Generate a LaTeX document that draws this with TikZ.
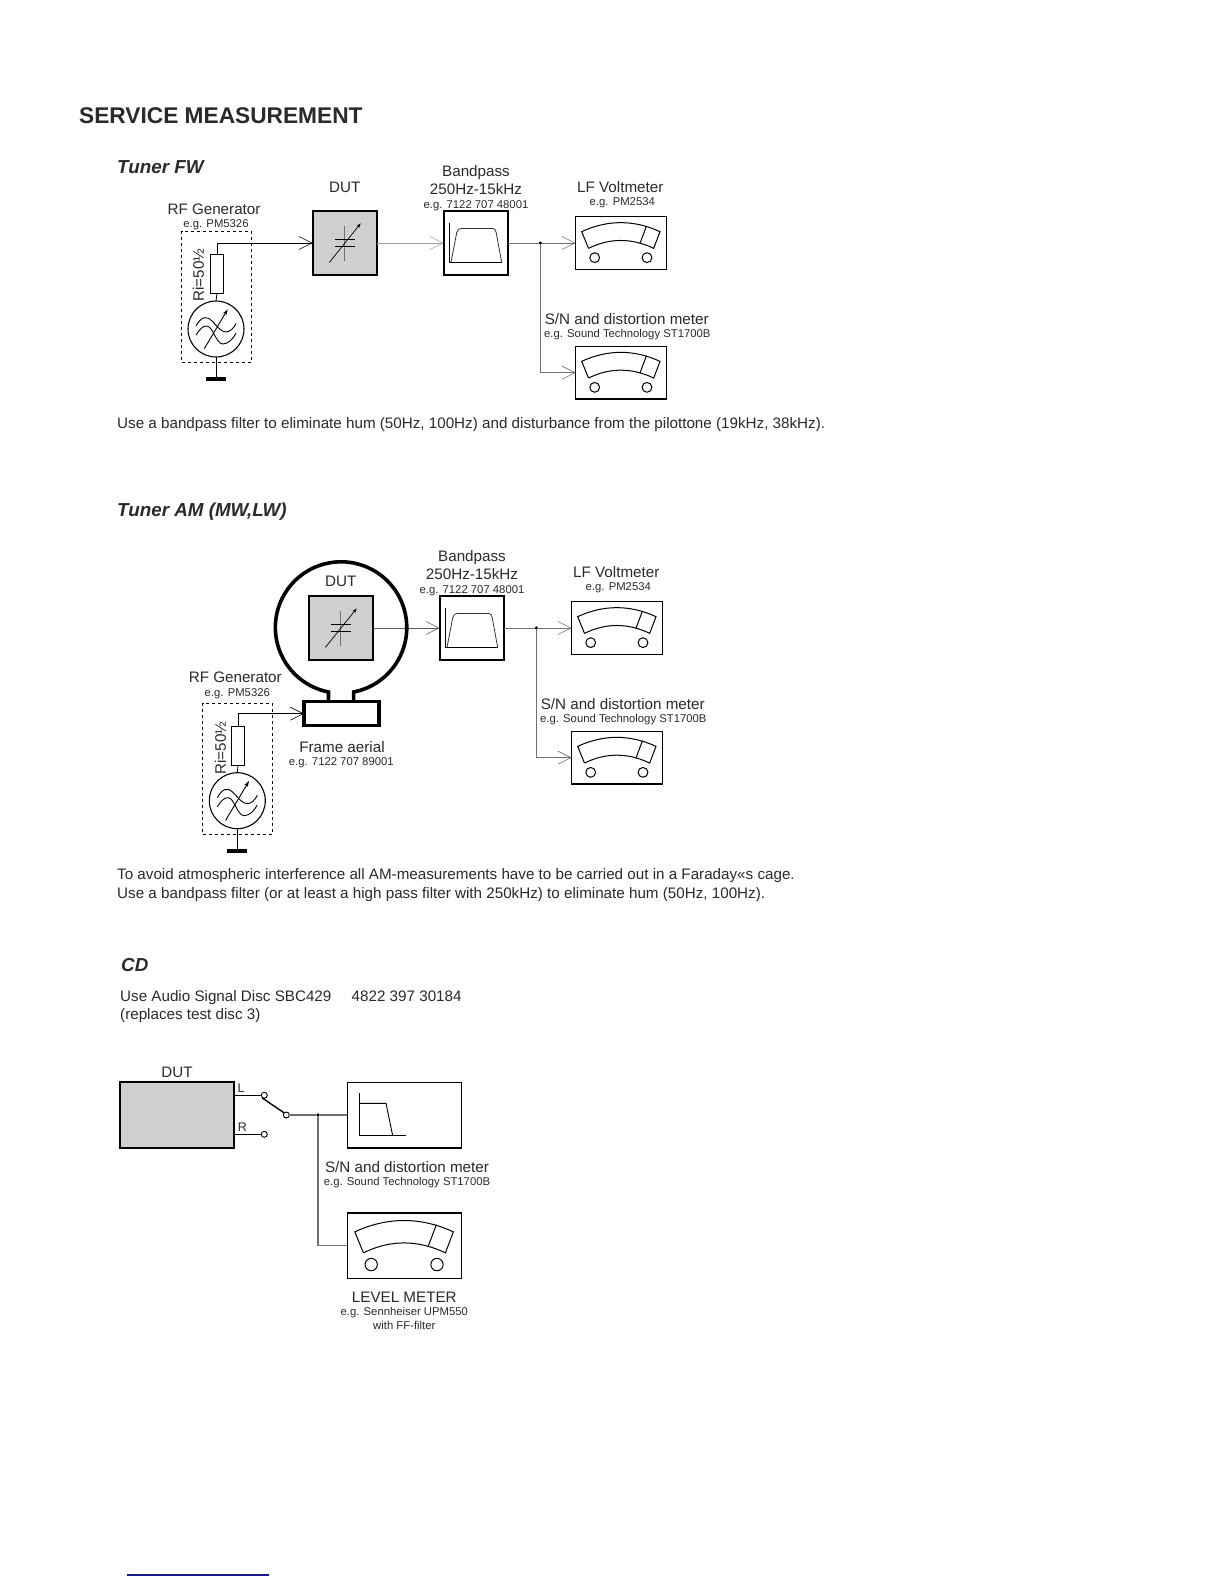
\documentclass[tikz,border=0pt]{standalone}
\usepackage{fontspec}
\setmainfont{Liberation Sans}
\usetikzlibrary{arrows.meta}
\definecolor{dutgrey}{HTML}{CDCFD0}
\definecolor{txt}{HTML}{2A2A2A}
\definecolor{wiregrey}{HTML}{707070}
\definecolor{darkwire}{HTML}{5A5A5A}
\definecolor{paleline}{HTML}{A0A0A0}
\definecolor{bluerule}{HTML}{1A1A8C}
\tikzset{
  x=1pt,y=-1pt,
  >={Straight Barb[length=13pt,width=13pt,line width=0.6pt]},
  box/.style={draw=black,inner sep=0pt,outer sep=0pt,line width=#1},
  box/.default=1.1pt,
  wire/.style={draw=black,line width=0.8pt},
  greywire/.style={draw=wiregrey,line width=0.9pt},
  palewire/.style={draw=paleline,line width=1pt},
  lab/.style={inner sep=0pt,text=txt,yshift=-1.4pt,text height=10.9pt,text depth=3pt,font=\fontsize{15.2}{17}\selectfont},
  sm/.style={inner sep=0pt,text=txt,yshift=-0.8pt,text height=8.1pt,text depth=2.3pt,font=\fontsize{11.3}{13}\selectfont},
  body/.style={inner sep=0pt,anchor=west,text=txt,yshift=-1.6pt,text height=10.9pt,text depth=3pt,font=\fontsize{15.2}{17}\selectfont},
  head/.style={inner sep=0pt,anchor=west,text=txt,yshift=-1.8pt,text height=14pt,text depth=4pt,font=\fontsize{18.8}{22}\bfseries\itshape\selectfont},
  dot/.style={circle,fill=black,inner sep=0pt,outer sep=0pt,minimum size=3.6pt},
  res/.style={box=0.9pt,fill=white,minimum width=13.4pt,minimum height=39pt},
  gen/.style={circle,box=1.1pt,fill=white,minimum size=56pt},
  dashbox/.style={draw=black,dashed,line width=0.8pt,inner sep=0pt,minimum width=69.6pt,minimum height=131pt},
  dutbox/.style={box=1.8pt,fill=dutgrey,minimum width=64.6pt,minimum height=64.6pt},
  bpbox/.style={box=1.8pt,fill=white,minimum width=64.6pt,minimum height=64.6pt},
  meterbox/.style={box=1.3pt,fill=white,minimum width=90.6pt,minimum height=52.7pt},
  term/.style={circle,draw=black,line width=0.9pt,fill=white,inner sep=0pt,outer sep=0pt,minimum size=6pt},
  groundbar/.style={fill=black,inner sep=0pt,minimum width=20pt,minimum height=3.4pt},
  meterglyph/.pic={
    \draw[line width=1pt] (12.8,31.7) -- (6,15) .. controls (32,3) and (58.1,3) .. (84.3,15)
      -- (78,31.7) .. controls (56,21.2) and (34.1,21.2) .. (12.8,31.7);
    \draw[line width=1pt] (70.8,9.3) -- (64.2,26.8);
    \draw[line width=1pt] (19,41) circle[radius=4.9];
    \draw[line width=1pt] (71.3,41) circle[radius=4.9];
  },
  bandglyph/.pic={
    \draw[line width=0.8pt] (6,12) -- (6,51.7) -- (58.3,51.7);
    \draw[line width=0.8pt,draw=black!80] (7.3,51.7) -- (13,22) .. controls (13.8,19) and (15,17.7) .. (18,17.7) -- (49,17.7)
      .. controls (51,17.7) and (52,19) .. (52.5,22) -- (58,51.7);
  },
  capglyph/.pic={
    \draw[draw=wiregrey,line width=0.8pt] (32,15) -- (32,50);
    \draw[line width=0.8pt] (22.3,28.7) -- (42.3,28.7);
    \draw[line width=0.8pt] (22.3,35.7) -- (42.3,35.7);
    \draw[line width=0.7pt,-{Stealth[length=5pt,width=3.5pt]}] (16.7,51.7) -- (48,12.7);
  },
  waveglyph/.pic={
    \draw[line width=0.9pt] (-20,-3) .. controls (-15,-12) and (-10,-14) .. (-4,-8) .. controls (1,-3) and (5,3) .. (10,3) .. controls (14,3) and (18,-1) .. (20,-5.5);
    \draw[line width=0.9pt] (-20,6) .. controls (-16,0) and (-13,-3.3) .. (-9,-3) .. controls (-3,-2.5) and (0,15) .. (7,15) .. controls (12,15) and (17,10) .. (20,4.3);
    \draw[line width=0.9pt,-{Stealth[length=6pt,width=4pt]}] (-11.7,19.7) -- (11.7,-19.7);
  },
}
\begin{document}
\begin{tikzpicture}
\useasboundingbox (0,0) rectangle (1224,1584);
\fill[white] (0,0) rectangle (1224,1584);

\node[inner sep=0pt,anchor=west,text=txt,font=\fontsize{22.7}{24}\bfseries\selectfont] (title) at (79,116) {SERVICE MEASUREMENT};

%% ---------- Tuner FW
\node[head] (hfw) at (117,166.5) {Tuner FW};
\node[dashbox] (rfbox) at (216.5,296.5) {};
\node[lab] (rfl) at (214,209) {RF Generator};
\node[sm] (rfs) at (216,224) {e.g. PM5326};
\node[dutbox] (dut) at (345,243) {};
\pic at (dut.north west) {capglyph};
\node[lab] (dutl) at (344.7,186.7) {DUT};
\node[res] (r) at (217,273.8) {};
\node[gen] (g) at (216,329) {};
\pic at (g.center) {waveglyph};
\node[lab,rotate=90] (ri) at (200,273.6) {Ri=50½};
\node[groundbar] (gnd) at (216,379) {};
\draw[wire] (r.south) -- (g.north);
\draw[wire] (g.south) -- (gnd.north);
\draw[wire,->] (r.north) |- (dut.west);
\node[bpbox] (bp) at (476,243) {};
\pic at (bp.north west) {bandglyph};
\node[lab] (bp1) at (476,171) {Bandpass};
\node[lab] (bp2) at (476,189.3) {250Hz-15kHz};
\node[sm] (bp3) at (476,204.3) {e.g. 7122 707 48001};
\draw[palewire,->] (dut.east) -- (bp.west);
\node[meterbox] (m1) at (621,243) {};
\pic at (m1.north west) {meterglyph};
\node[lab] (m1a) at (620.3,186.7) {LF Voltmeter};
\node[sm] (m1b) at (622.3,202) {e.g. PM2534};
\node[meterbox] (m2) at (621,372.7) {};
\pic at (m2.north west) {meterglyph};
\node[lab] (m2a) at (626.7,319.3) {S/N and distortion meter};
\node[sm] (m2b) at (627.3,334) {e.g. Sound Technology ST1700B};
\node[dot] (j) at (540.3,243) {};
\draw[greywire] (bp.east) -- (j);
\draw[greywire,->] (j) -- (m1.west);
\draw[greywire,->] (j) |- (m2.west);
\node[body] (t1) at (117,422.5) {Use a bandpass filter to eliminate hum (50Hz, 100Hz) and disturbance from the pilottone (19kHz, 38kHz).};

%% ---------- Tuner AM
\node[head] (ham) at (117,510) {Tuner AM (MW,LW)};
\node[dutbox] (adut) at (341,628) {};
\pic at (adut.north west) {capglyph};
\node[lab] (adutl) at (340.7,580.7) {DUT};
\node[bpbox] (abp) at (472,628) {};
\pic at (abp.north west) {bandglyph};
\node[lab] (abp1) at (472,556) {Bandpass};
\node[lab] (abp2) at (472,574.3) {250Hz-15kHz};
\node[sm] (abp3) at (472,589.3) {e.g. 7122 707 48001};
\draw[draw=darkwire,line width=0.9pt,->] (adut.east) -- (abp.west);
\node[box=3.4pt,fill=white,minimum width=75pt,minimum height=24pt] (frame) at (341.5,713.7) {};
\coordinate (neckl) at (328.4,701.7);
\coordinate (neckr) at (353.6,701.7);
\draw[line width=3.6pt] (neckr) -- (353.6,692) arc[start angle=-79,end angle=259,radius=65.7pt] -- (neckl);
\node[meterbox] (am1) at (617,628) {};
\pic at (am1.north west) {meterglyph};
\node[lab] (am1a) at (616.3,571.7) {LF Voltmeter};
\node[sm] (am1b) at (618.3,587) {e.g. PM2534};
\node[meterbox] (am2) at (617,757.7) {};
\pic at (am2.north west) {meterglyph};
\node[lab] (am2a) at (622.7,704.3) {S/N and distortion meter};
\node[sm] (am2b) at (623.3,719) {e.g. Sound Technology ST1700B};
\node[dot] (aj) at (536.3,628) {};
\draw[greywire] (abp.east) -- (aj);
\draw[greywire,->] (aj) -- (am1.west);
\draw[greywire,->] (aj) |- (am2.west);
\node[dashbox] (arfbox) at (237.5,769) {};
\node[lab] (arfl) at (235.3,677.3) {RF Generator};
\node[sm] (arfs) at (237.3,692.7) {e.g. PM5326};
\node[res] (ar) at (238,746) {};
\node[gen] (ag) at (237.3,800.7) {};
\pic at (ag.center) {waveglyph};
\node[lab,rotate=90] (ari) at (222,746.6) {Ri=50½};
\node[groundbar] (agnd) at (237.3,851) {};
\draw[wire] (ar.south) -- (ag.north);
\draw[wire] (ag.south) -- (agnd.north);
\draw[wire,->] (ar.north) |- (frame.west);
\node[lab] (fa) at (342,746.7) {Frame aerial};
\node[sm] (fb) at (341.3,762) {e.g. 7122 707 89001};
\node[body] (t2) at (117,873.6) {To avoid atmospheric interference all AM-measurements have to be carried out in a Faraday«s cage.};
\node[body] (t3) at (117,893) {Use a bandpass filter (or at least a high pass filter with 250kHz) to eliminate hum (50Hz, 100Hz).};

%% ---------- CD
\node[head] (hcd) at (121,964.6) {CD};
\node[body] (t4) at (120,996) {Use Audio Signal Disc SBC429};
\node[body] (t5) at (351.5,996) {4822 397 30184};
\node[body] (t6) at (120,1014) {(replaces test disc 3)};
\node[box=1.8pt,fill=dutgrey,minimum width=114.6pt,minimum height=65.7pt] (cdut) at (177,1115.2) {};
\node[lab] (cdutl) at (177,1072) {DUT};
\node[inner sep=0pt,text=txt,font=\fontsize{12.5}{14}\selectfont] (cl) at (241,1088.3) {L};
\node[inner sep=0pt,text=txt,font=\fontsize{12.5}{14}\selectfont] (cr) at (242.3,1127.3) {R};
\node[term] (tl) at (264.3,1095.3) {};
\node[term] (tr) at (264.3,1134.3) {};
\node[term] (tc) at (286.3,1115) {};
\draw[wire] (cdut.east |- tl) -- (tl);
\draw[wire] (cdut.east |- tr) -- (tr);
\draw[line width=1.4pt] (tl.south west) ++(0,0.5) -- (tc.north west);
\node[box=1.4pt,fill=white,minimum width=114pt,minimum height=65.7pt] (cf) at (404.3,1115.2) {};
\draw[line width=0.9pt] (359.3,1093.3) -- (359.3,1135.7) -- (406,1135.7);
\draw[line width=0.9pt] (359.3,1103.3) -- (386,1103.3) -- (392.7,1135.7);
\node[lab] (c1) at (407,1166.7) {S/N and distortion meter};
\node[sm] (c2) at (407,1181.3) {e.g. Sound Technology ST1700B};
\node[box=1.4pt,fill=white,minimum width=114pt,minimum height=65.3pt] (cm) at (404.3,1245.6) {};
\pic[scale=1.258] at (cm.north west) {meterglyph};
\node[dot] (cj) at (318,1115) {};
\draw[greywire,line width=1.2pt] (tc) -- (cj);
\draw[greywire,line width=1.2pt] (cj) -- (cf.west |- cj);
\draw[greywire,line width=1.2pt] (cj) |- (cm.west);
\node[lab] (c3) at (404.3,1296.7) {LEVEL METER};
\node[sm] (c4) at (404.3,1311.7) {e.g. Sennheiser UPM550};
\node[sm] (c5) at (404.3,1325.3) {with FF-filter};

\draw[bluerule,line width=1.2pt] (127,1575) -- (269,1575);
\end{tikzpicture}
\end{document}
